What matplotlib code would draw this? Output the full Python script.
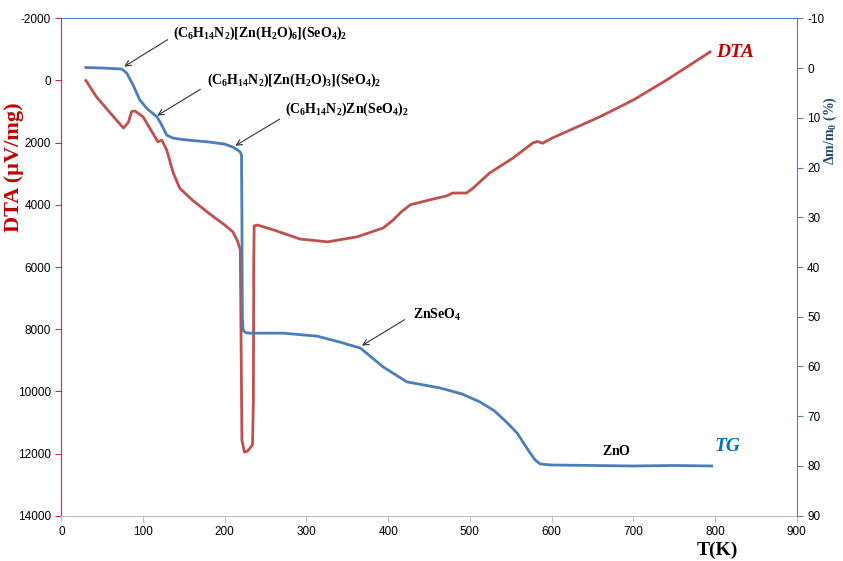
import numpy as np
import matplotlib
matplotlib.use("Agg")
import matplotlib.pyplot as plt

#### DATA ####
# DTA curve, left axis (uV/mg), T in K
t_dta = [30, 43, 60, 76, 82, 86, 90, 100, 112, 118, 123, 129, 137, 145, 160, 180,
         200, 210, 216, 219, 221, 224, 228, 234, 235, 235.5, 236, 240, 260, 292,
         326, 362, 394, 406, 416, 427, 451, 472, 479, 496, 504, 524, 553, 577, 583,
         589, 601, 659, 700, 741, 773, 794]
dta = [0, 530, 1050, 1530, 1350, 1000, 980, 1170, 1700, 1970, 1920, 2240, 2980,
       3470, 3840, 4260, 4650, 4870, 5190, 5450, 11560, 11950, 11920, 11720,
       10280, 5770, 4680, 4650, 4810, 5100, 5190, 5030, 4744, 4490, 4230, 4000,
       3840, 3710, 3620, 3620, 3460, 2980, 2490, 2010, 1960, 2020, 1850, 1170,
       630, -16, -560, -917]

# TG curve, right axis (mass loss %)
t_tg = [30, 50, 74, 80, 88, 96, 105, 117, 122, 129, 137, 150, 182, 200, 210, 216,
        219, 220.5, 221, 221.5, 222.5, 226, 231, 272, 313, 341, 366, 394, 423,
        463, 490, 512, 530, 545, 558, 565, 573, 580, 586, 600, 650, 700, 750, 796]
tg = [-0.1, 0.0, 0.2, 1.0, 3.5, 6.4, 8.2, 9.8, 11.2, 13.5, 14.1, 14.4, 14.9,
      15.3, 15.9, 16.5, 16.9, 17.5, 30, 50, 52.8, 53.2, 53.3, 53.3, 53.9, 55.1,
      56.3, 60.1, 63.1, 64.3, 65.5, 67.1, 68.9, 71.2, 73.4, 75.2, 77.2, 78.8,
      79.6, 79.8, 79.9, 80.0, 79.9, 80.0]

# phase labels: text, text pos (T, %), arrow tail, arrow head
phases = [
    (r'$\mathbf{(C_6H_{14}N_2)[Zn(H_2O)_6](SeO_4)_2}$', (136.6, -7.0), (133, -6.0), (74, 0.0)),
    (r'$\mathbf{(C_6H_{14}N_2)[Zn(H_2O)_3](SeO_4)_2}$', (178, 2.4), (173, 4.0), (114.5, 9.85)),
    (r'$\mathbf{(C_6H_{14}N_2)Zn(SeO_4)_2}$', (273.7, 8.4), (270, 10.0), (210, 15.9)),
    (r'$\mathbf{ZnSeO_4}$', (430, 49.7), (423, 50.3), (365, 56.1)),
]

#### STYLE ####
red = '#C0504D'
blue = '#4A7EBB'
plt.rcParams['mathtext.fontset'] = 'custom'
plt.rcParams['mathtext.rm'] = 'Liberation Serif'
plt.rcParams['mathtext.bf'] = 'Liberation Serif:bold'
plt.rcParams['mathtext.it'] = 'Liberation Serif:italic'
plt.rcParams['font.family'] = 'Liberation Sans'
plt.rcParams['axes.unicode_minus'] = False

fig = plt.figure(figsize=(8.43, 5.61), dpi=100)
ax = fig.add_axes([0.0728, 0.0807, 0.8722, 0.8867])
ax2 = ax.twinx()

ax.plot(t_dta, dta, color=red, lw=2.0, solid_joinstyle='round')
ax2.plot(t_tg, tg, color=blue, lw=2.0, solid_joinstyle='round')

ax.set_xlim(0, 900)
ax.set_ylim(14000, -2000)
ax2.set_ylim(90, -10)
ax.set_xticks(np.arange(0, 901, 100))
ax.set_yticks(np.arange(-2000, 14001, 2000))
ax2.set_yticks(np.arange(-10, 91, 10))

ax.spines['left'].set_color('#D92B2B')
ax.spines['top'].set_color('#4F81BD')
ax.spines['bottom'].set_color('#BFBFBF')
ax.spines['right'].set_visible(False)
for s in ['left', 'top', 'bottom']:
    ax2.spines[s].set_visible(False)
ax2.spines['right'].set_color('#4F81BD')

ax.tick_params(axis='y', colors='#D92B2B', labelcolor='black', length=4, labelsize=8.5)
ax.tick_params(axis='x', colors='#BFBFBF', labelcolor='black', length=4, labelsize=8.5)
ax2.tick_params(axis='y', colors='#4F81BD', labelcolor='black', length=4, labelsize=8.5)

fig.text(14 / 843, 1 - 167 / 561, 'DTA (µV/mg)', rotation=90, ha='center', va='center',
         color='#C00000', fontsize=16, fontweight='bold', family='Liberation Serif')
fig.text(830 / 843, 1 - 131 / 561, r'$\mathbf{\Delta m/m_0}$ (%)', rotation=90, ha='center',
         va='center', color='#1F497D', fontsize=10, fontweight='bold', family='Liberation Serif')
fig.text(717 / 843, 1 - 550 / 561, 'T(K)', ha='center', va='center', fontsize=14,
         fontweight='bold', family='Liberation Serif')

for label, txt, tail, head in phases:
    ax2.annotate('', xy=head, xytext=tail,
                 arrowprops=dict(arrowstyle='->', color='#333333', lw=0.8))
    ax2.text(txt[0], txt[1], label, ha='left', va='center', fontsize=10)

ax2.text(680, 77.0, r'$\mathbf{ZnO}$', ha='center', va='center', fontsize=10)
ax2.text(801, -3.2, 'DTA', ha='left', va='center', color='#C00000', fontsize=14,
         fontweight='bold', style='italic', family='Liberation Serif')
ax2.text(800, 76.1, 'TG', ha='left', va='center', color='#0070C0', fontsize=14,
         fontweight='bold', style='italic', family='Liberation Serif')

fig.savefig('out.png', dpi=100)
